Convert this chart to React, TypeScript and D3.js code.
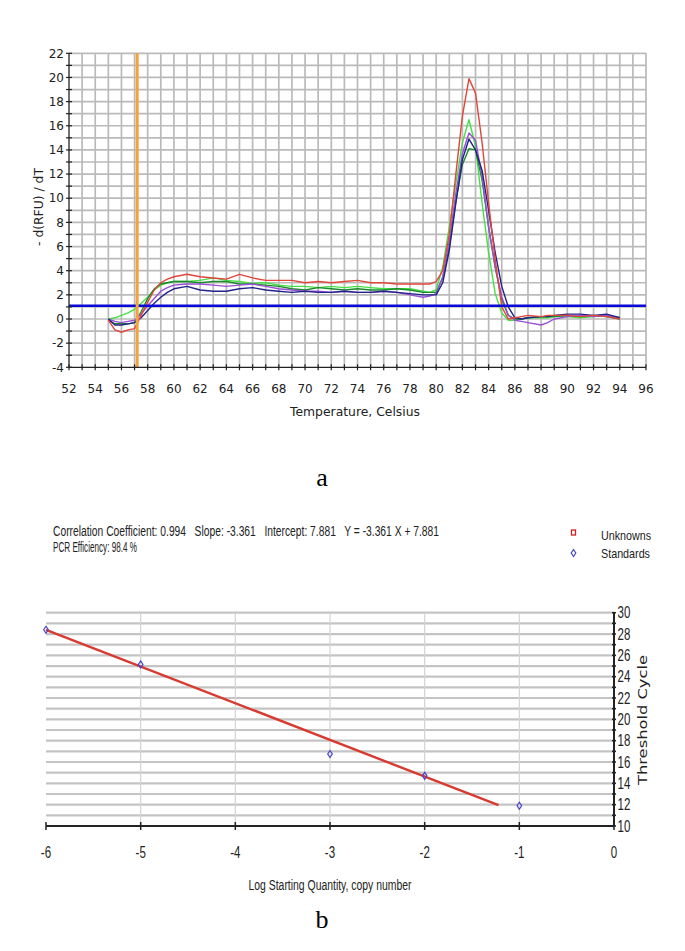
import React from 'react';
import * as d3 from 'd3';

// ---------- Panel a: melt curves ----------
const temps = [55,55.5,56,56.5,57,57.5,58,58.5,59,59.5,60,61,62,63,64,65,66,67,68,69,70,71,72,73,74,75,76,77,78,79,79.5,80,80.5,81,81.5,82,82.5,83,83.5,84,84.5,85,85.5,86,86.5,87,88,88.5,89,90,91,92,93,94];

const redVals = [-0.1,-0.9,-1.1,-0.9,-0.8,0.3,1.4,2.4,3.0,3.3,3.5,
  3.7,3.5,3.4,3.3,3.7,3.4,3.2,3.2,3.2,3.0,3.1,3.0,3.1,3.2,3.0,3.0,2.9,2.9,2.9,
  2.9,3.1,4.0,7.0,12.0,16.8,19.9,18.7,14.6,9.6,4.9,1.0,0.0,0.1,0.2,0.3,
  0.2,0.3,0.3,0.3,0.2,0.3,0.2,0.0];
const lightGreenVals = [0,0.1,0.3,0.5,0.8,1.3,1.8,2.4,2.8,3.0,3.1,
  3.1,3.2,3.4,3.2,3.1,2.95,3.0,2.8,2.7,2.7,2.6,2.7,2.6,2.7,2.6,2.5,2.5,2.5,2.3,
  2.2,2.4,4.3,7.6,11.2,14.6,16.5,14.3,9.6,5.5,2.1,0.5,-0.1,-0.1,0.0,0.1,
  0.1,0.1,0.2,0.2,0.1,0.2,0.3,0.1];
const darkGreenVals = [-0.1,-0.4,-0.4,-0.4,-0.3,0.6,1.7,2.5,2.9,3.0,3.1,
  3.1,3.0,3.1,3.1,2.9,2.9,2.8,2.7,2.5,2.4,2.6,2.5,2.4,2.5,2.4,2.4,2.5,2.4,2.2,
  2.2,2.2,3.4,6.0,9.8,12.8,14.1,14.0,11.5,7.6,4.3,1.6,0.3,0.0,0.0,0.1,
  0.2,0.2,0.2,0.3,0.2,0.3,0.2,0.0];
const purpleVals = [0,-0.2,-0.3,-0.2,-0.1,0.4,1.1,1.7,2.3,2.6,2.8,
  2.9,2.9,2.8,2.7,2.8,2.9,2.7,2.5,2.4,2.3,2.3,2.2,2.3,2.2,2.2,2.3,2.2,2.0,1.8,
  1.9,2.1,3.5,6.5,10.4,13.7,15.4,14.8,11.8,7.6,4.3,1.85,0.3,-0.1,-0.2,-0.3,
  -0.5,-0.3,0.0,0.2,0.3,0.2,0.3,0.1];
const navyVals = [0,-0.5,-0.5,-0.4,-0.3,0.1,0.7,1.3,1.8,2.2,2.5,
  2.7,2.4,2.3,2.3,2.5,2.6,2.4,2.3,2.2,2.3,2.2,2.2,2.3,2.2,2.2,2.3,2.2,2.1,2.0,
  2.0,2.0,3.0,5.7,9.6,13.2,14.9,14.0,12.3,9.0,5.5,2.7,1.0,0.1,0.0,0.1,
  0.2,0.2,0.3,0.4,0.4,0.3,0.4,0.1];

const meltSeries = [lightGreenVals, darkGreenVals, purpleVals, navyVals, redVals];
const meltColors = ['#45e045', '#1a8a2a', '#9a4fd6', '#22228a', '#e2453a'];

const meltXTicks = d3.range(52, 97, 2);
const meltYTicks = d3.range(-4, 23, 2);
const markerTemp = 57.2;
const thresholdRFU = 1.1;

// ---------- Panel b: standard curve ----------
const stdX = [-6, -5, -3, -2, -1];
const stdCt = [28.4, 25.15, 16.75, 14.7, 11.9];
const fitX = [-6, -1.22];
const fitY = [28.4, 11.95];
const stdXTicks = [-6, -5, -4, -3, -2, -1, 0];
const stdYTicks = d3.range(10, 31, 2);

const headerLine1 = 'Correlation Coefficient: 0.994   Slope: -3.361   Intercept: 7.881   Y = -3.361 X + 7.881';
const headerLine2 = 'PCR Efficiency: 98.4 %';
const legendLabels = ['Unknowns', 'Standards'];

const narrow = "'Liberation Sans Narrow', 'Arial Narrow', 'Liberation Sans', sans-serif";
const tahoma = "'DejaVu Sans', Verdana, sans-serif";

function NarrowText(props: { x: number; y: number; anchor?: string; size?: number; children: React.ReactNode }) {
  const { x, y, anchor = 'middle', size = 15, children } = props;
  return (
    <g transform={`translate(${x},${y}) scale(0.72,1)`}>
      <text x={0} y={0} dy="0.35em" textAnchor={anchor} fontFamily="'Liberation Sans', Arial, sans-serif" fontSize={size} fill="#222">{children}</text>
    </g>
  );
}

export default function App() {
  // Panel a scales
  const x1 = d3.scaleLinear().domain([52, 96]).range([69, 646]);
  const y1 = d3.scaleLinear().domain([-4, 22]).range([367.3, 53.3]);
  const line1 = d3.line<number>().x((_, i) => x1(temps[i])).y(d => y1(d));

  // Panel b scales
  const x2 = d3.scaleLinear().domain([-6, 0]).range([46, 614]);
  const y2 = d3.scaleLinear().domain([10, 30]).range([826, 612.7]);
  const fitLine = d3.line<number>().x((_, i) => x2(fitX[i])).y(d => y2(d));

  const gridColor = '#bababa';

  return (
    <svg width={685} height={951} style={{ position: 'absolute', left: 0, top: 0, background: '#fff' }}>
      <rect x={0} y={0} width={685} height={951} fill="#fff" />
      {/* ===== Panel a ===== */}
      <g>
        {d3.range(53, 97, 1).map(t => (
          <line key={'vg' + t} x1={x1(t)} x2={x1(t)} y1={y1(22)} y2={y1(-4)} stroke={gridColor} strokeWidth={1.7} />
        ))}
        {d3.range(-3, 23, 1).map(v => (
          <line key={'hg' + v} x1={x1(52)} x2={x1(96)} y1={y1(v)} y2={y1(v)} stroke={gridColor} strokeWidth={1.7} />
        ))}
        {meltSeries.map((s, i) => (
          <path key={'s' + i} d={line1(s) || ''} fill="none" stroke={meltColors[i]} strokeWidth={1.4} strokeLinejoin="round" />
        ))}
        <line x1={x1(52)} x2={x1(96)} y1={y1(thresholdRFU)} y2={y1(thresholdRFU)} stroke="#0a0ad8" strokeWidth={2.6} />
        <line x1={x1(markerTemp)} x2={x1(markerTemp)} y1={y1(22)} y2={y1(-4)} stroke="#f4a23a" strokeWidth={3} />
        {/* axes */}
        <line x1={x1(52)} x2={x1(52)} y1={y1(22)} y2={y1(-4)} stroke="#222" strokeWidth={1.3} />
        <line x1={x1(52)} x2={x1(96)} y1={y1(-4)} y2={y1(-4)} stroke="#222" strokeWidth={1.3} />
        {d3.range(-4, 23, 1).map(v => (
          <line key={'yt' + v} x1={x1(52) - 3} x2={x1(52) + 3} y1={y1(v)} y2={y1(v)} stroke="#222" strokeWidth={1.2} />
        ))}
        {d3.range(52, 97, 1).map(t => (
          <line key={'xt' + t} x1={x1(t)} x2={x1(t)} y1={y1(-4) - 3} y2={y1(-4) + 3} stroke="#222" strokeWidth={1.2} />
        ))}
        {meltYTicks.map(v => (
          <text key={'yl' + v} x={x1(52) - 5} y={y1(v)} dy="0.35em" textAnchor="end" fontFamily={tahoma} fontSize={12} fill="#222">{v}</text>
        ))}
        {meltXTicks.map(t => (
          <text key={'xl' + t} x={x1(t)} y={y1(-4) + 21} dy="0.35em" textAnchor="middle" fontFamily={tahoma} fontSize={12} fill="#222">{t}</text>
        ))}
        <text x={355} y={412} dy="0.35em" textAnchor="middle" fontFamily={tahoma} fontSize={12} fill="#222" textLength={130} lengthAdjust="spacingAndGlyphs">Temperature, Celsius</text>
        <text transform="translate(39,207) rotate(-90)" dy="0.35em" textAnchor="middle" fontFamily={tahoma} fontSize={12} fill="#222" textLength={78} lengthAdjust="spacingAndGlyphs">- d(RFU) / dT</text>
      </g>
      <text x={322} y={486} textAnchor="middle" fontFamily="'Liberation Serif', 'Times New Roman', serif" fontSize={26} fill="#000">a</text>

      {/* ===== Panel b ===== */}
      <g>
        <text x={53} y={536} xmlSpace="preserve" style={{ whiteSpace: 'pre' }} fontFamily={narrow} fontSize={14} fill="#222" textLength={386} lengthAdjust="spacingAndGlyphs">{headerLine1}</text>
        <text x={53} y={552} fontFamily={narrow} fontSize={14} fill="#222" textLength={84} lengthAdjust="spacingAndGlyphs">{headerLine2}</text>
        {/* legend */}
        <rect x={571.5} y={530} width={4} height={5} fill="none" stroke="#d02020" strokeWidth={1.3} />
        <path d={`M573.5,549.5 L575.8,553 L573.5,556.5 L571.2,553 Z`} fill="none" stroke="#4545c8" strokeWidth={1.2} />
        <text x={601} y={535} dy="0.35em" fontFamily={narrow} fontSize={13} fill="#222" textLength={50} lengthAdjust="spacingAndGlyphs">{legendLabels[0]}</text>
        <text x={601} y={553} dy="0.35em" fontFamily={narrow} fontSize={13} fill="#222" textLength={49} lengthAdjust="spacingAndGlyphs">{legendLabels[1]}</text>

        {d3.range(11, 31, 1).map(v => (
          <line key={'bhg' + v} x1={x2(-6)} x2={x2(0)} y1={y2(v)} y2={y2(v)} stroke="#c4c4c4" strokeWidth={2.2} />
        ))}
        {d3.range(-5, 0, 1).map(v => (
          <line key={'bvg' + v} x1={x2(v)} x2={x2(v)} y1={y2(30)} y2={y2(10)} stroke="#d4d4d4" strokeWidth={1.2} />
        ))}
        {/* axes */}
        <line x1={x2(-6)} x2={x2(0)} y1={y2(10)} y2={y2(10)} stroke="#222" strokeWidth={2} />
        <line x1={x2(0)} x2={x2(0)} y1={y2(30)} y2={y2(10)} stroke="#222" strokeWidth={2} />
        {stdXTicks.map(t => (
          <line key={'bxt' + t} x1={x2(t)} x2={x2(t)} y1={y2(10) - 4} y2={y2(10) + 4} stroke="#222" strokeWidth={1.5} />
        ))}
        {d3.range(10, 31, 1).map(v => (
          <line key={'byt' + v} x1={x2(0) - 2} x2={x2(0) + 2} y1={y2(v)} y2={y2(v)} stroke="#222" strokeWidth={1.5} />
        ))}
        {stdXTicks.map(t => (
          <NarrowText key={'bxl' + t} x={x2(t)} y={852} anchor="middle" size={16}>{t}</NarrowText>
        ))}
        {stdYTicks.map(v => (
          <NarrowText key={'byl' + v} x={x2(0) + 3.5} y={y2(v)} anchor="start" size={16}>{v}</NarrowText>
        ))}
        <text x={330} y={885} dy="0.35em" textAnchor="middle" fontFamily={narrow} fontSize={14} fill="#222" textLength={163} lengthAdjust="spacingAndGlyphs">Log Starting Quantity, copy number</text>
        <text transform="translate(642,720) rotate(-90)" dy="0.35em" textAnchor="middle" fontFamily={tahoma} fontSize={13} fill="#222" textLength={130} lengthAdjust="spacingAndGlyphs">Threshold Cycle</text>

        <path d={fitLine(fitY) || ''} fill="none" stroke="#d83a30" strokeWidth={2.4} />
        {stdX.map((xv, i) => {
          const cx = x2(xv);
          const cy = y2(stdCt[i]);
          return (
            <path key={'pt' + i} d={`M${cx},${cy - 3.5} L${cx + 2.3},${cy} L${cx},${cy + 3.5} L${cx - 2.3},${cy} Z`} fill="none" stroke="#4545c8" strokeWidth={1.2} />
          );
        })}
      </g>
      <text x={322} y={928} textAnchor="middle" fontFamily="'Liberation Serif', 'Times New Roman', serif" fontSize={26} fill="#000">b</text>
    </svg>
  );
}
